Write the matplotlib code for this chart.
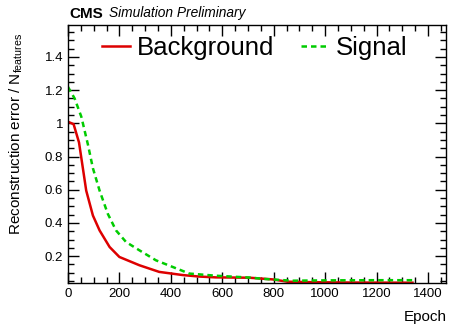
import matplotlib
matplotlib.use("Agg")
import matplotlib.pyplot as plt
from matplotlib.ticker import MultipleLocator

plt.rcParams['font.family'] = ['Liberation Sans', 'DejaVu Sans']
plt.rcParams['mathtext.fontset'] = 'custom'
plt.rcParams['mathtext.rm'] = 'Liberation Sans'
plt.rcParams['mathtext.it'] = 'Liberation Sans:italic'

bkg_epoch = [0, 22, 43, 58, 71, 97, 123, 162, 200, 278, 355, 446, 510, 575, 705, 795, 853, 950, 1100, 1340]
bkg_err = [1.01, 0.995, 0.885, 0.73, 0.595, 0.445, 0.355, 0.255, 0.195, 0.145, 0.105, 0.086, 0.077, 0.072, 0.070, 0.060, 0.046, 0.043, 0.041, 0.040]

sig_epoch = [0, 26, 52, 78, 97, 123, 155, 187, 226, 278, 342, 407, 472, 575, 705, 769, 872, 1000, 1200, 1345]
sig_err = [1.22, 1.15, 1.04, 0.87, 0.73, 0.595, 0.455, 0.355, 0.285, 0.235, 0.175, 0.135, 0.095, 0.082, 0.071, 0.062, 0.052, 0.054, 0.055, 0.055]

fig = plt.figure(figsize=(4.5, 3.24), dpi=100)
ax = fig.add_axes([0.151, 0.1275, 0.840, 0.7965])

ax.plot(bkg_epoch, bkg_err, color='#dd0000', lw=1.8, label='Background')
ax.plot(sig_epoch, sig_err, color='#00cc00', lw=1.8, ls=(0, (2.2, 1.6)), label='Signal')

ax.set_xlim(0, 1470)
ax.set_ylim(0.04, 1.595)
ax.xaxis.set_major_locator(MultipleLocator(200))
ax.xaxis.set_minor_locator(MultipleLocator(50))
ax.yaxis.set_major_locator(MultipleLocator(0.2))
ax.yaxis.set_minor_locator(MultipleLocator(0.05))

def fmt(v, pos):
    s = f"{v:.1f}"
    if s.endswith('.0'):
        s = s[:-2]
    return s
ax.yaxis.set_major_formatter(plt.FuncFormatter(fmt))
ax.xaxis.set_major_formatter(plt.FuncFormatter(lambda v, p: f"{int(round(v))}"))

ax.tick_params(which='both', direction='in', top=True, right=True, labelsize=9.5, width=1.0, color='black')
ax.tick_params(which='major', length=8)
ax.tick_params(which='minor', length=4)
ax.tick_params(axis='x', pad=4)
for sp in ax.spines.values():
    sp.set_linewidth(1.0)

fig.text(8 / 450, 1 - 33 / 324, r'Reconstruction error / N$_{\mathrm{features}}$',
         rotation=90, ha='left', va='top', fontsize=11)
fig.text(447 / 450, 1 - 321 / 324, 'Epoch', ha='right', va='baseline', fontsize=11)

leg = ax.legend(loc='center left', bbox_to_anchor=(0.09, 0.908), ncol=2, frameon=False,
                fontsize=18.5, handlelength=1.09, handletextpad=0.27, columnspacing=1.05,
                borderaxespad=0.0, borderpad=0.0)

fig.text(69 / 450, 1 - 17.5 / 324, 'CMS', fontsize=11, fontweight='bold', ha='left', va='baseline')
fig.text(109 / 450, 1 - 17.5 / 324, 'Simulation Preliminary', fontsize=9.9, style='italic', ha='left', va='baseline')

fig.savefig('out.png', dpi=100)
